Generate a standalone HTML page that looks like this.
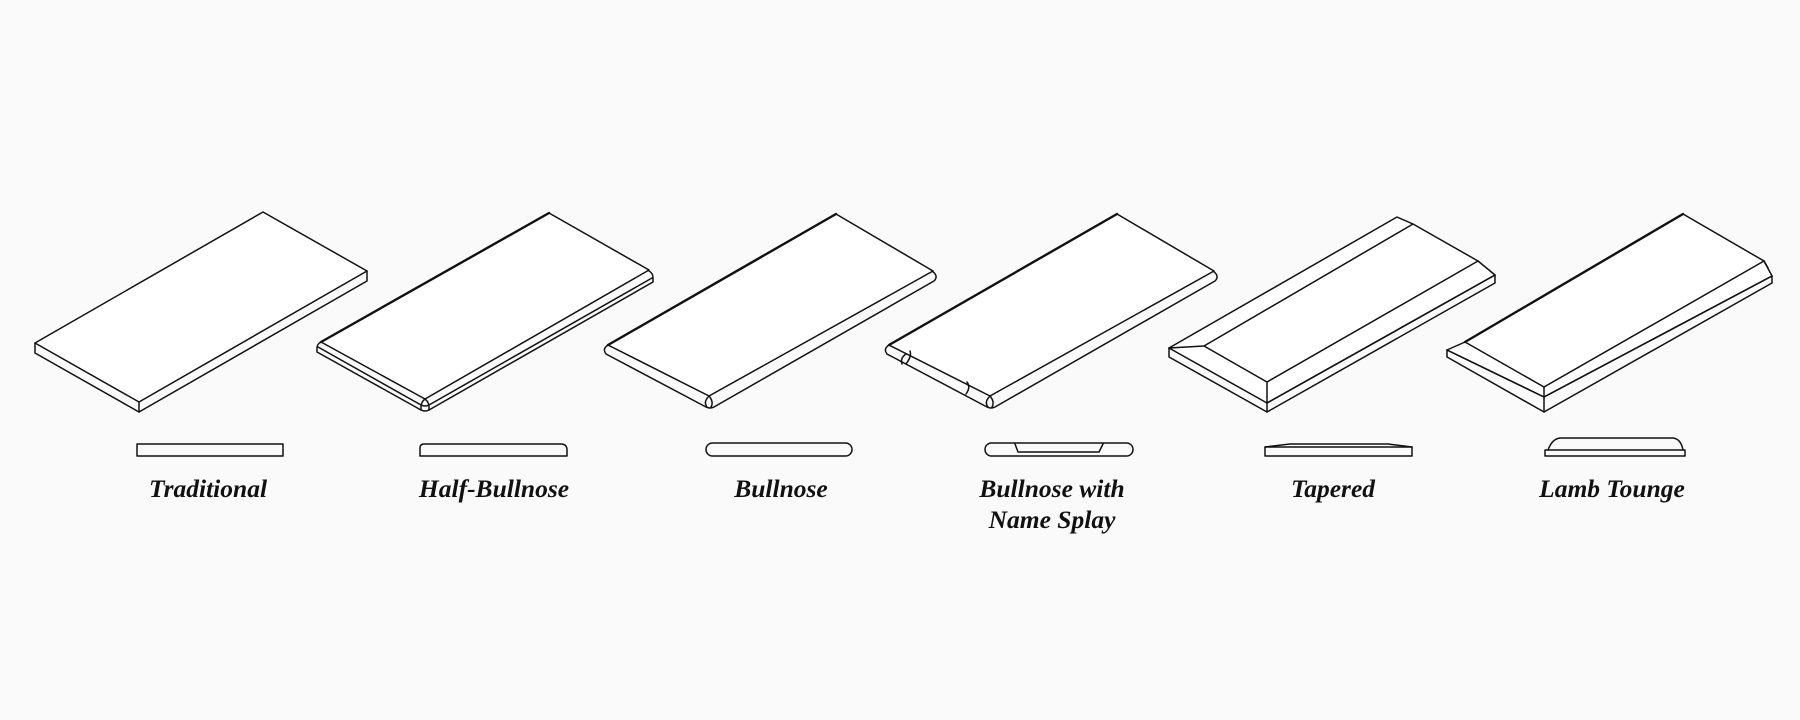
<!DOCTYPE html>
<html><head><meta charset="utf-8"><style>
html,body{margin:0;padding:0;background:#fafafa;}
svg{display:block;}
text{font-family:"Liberation Serif",serif;font-weight:bold;font-style:italic;font-size:25.5px;fill:#111;}
</style></head><body>
<svg width="1800" height="720" viewBox="0 0 1800 720" xmlns="http://www.w3.org/2000/svg">
<rect width="1800" height="720" fill="#fafafa"/>
<g fill="none" stroke="#111" stroke-width="1.5" stroke-linejoin="round" stroke-linecap="round">

<!-- Traditional -->
<g transform="translate(263,212)">
<polygon points="0,0 104,59 -124,190 -228,131" fill="#fff"/>
<polyline points="-228,131 -228,141 -124,200 104,69 104,59"/>
<line x1="-124" y1="190" x2="-124" y2="200"/>
</g>

<!-- Half-Bullnose -->
<g transform="translate(549,213)">
<polygon points="0,0 100,57 -124,186 -228,129" fill="#fff"/>
<line x1="0" y1="0" x2="-228" y2="129" stroke-width="2.4"/>
<path d="M-228,129 q-4,2 -4,6 l0,4 l104,58 q4,2 8,0 l224,-128 l0,-4 q0,-5 -4,-7"/>
<path d="M-231,134 l103,58 q4,2 8,0 l223,-127"/>
<path d="M-124,186 q-4,3 -4,8 l0,3"/>
<path d="M-124,186 q4,3 4,8 l0,3"/>
</g>

<!-- Bullnose -->
<g transform="translate(836,214)">
<polygon points="0,0 97,57 -127,182 -228,131" fill="#fff"/>
<line x1="0" y1="0" x2="-228" y2="131" stroke-width="2.4"/>
<path d="M-228,131 q-6,4 -2,9 l100,53 q4,2 8,0 l220,-126 q5,-5 -2,-10"/>
<path d="M-127,182 q-6,6 -2,11"/>
<path d="M-127,182 q5,6 2,11"/>
</g>

<!-- Bullnose with Name Splay -->
<g transform="translate(1117,214)">
<polygon points="0,0 97,57 -127,182 -228,131" fill="#fff"/>
<line x1="0" y1="0" x2="-228" y2="131" stroke-width="2.4"/>
<path d="M-228,131 q-6,4 -2,9 l100,53 q4,2 8,0 l220,-126 q5,-5 -2,-10"/>
<path d="M-127,182 q-6,6 -2,11"/>
<path d="M-127,182 q5,6 2,11"/>
<path d="M-211,140 q-6,4 -4,10"/>
<path d="M-207,137 q2,5 -4,13"/>
<path d="M-150,168 q4,5 -1,12"/>
</g>

<!-- Tapered -->
<g>
<polygon points="1397,217 1413,224 1478,261 1495,275 1267,403 1169,348" fill="#fff"/>
<polyline points="1169,348 1204,346 1413,224"/>
<polyline points="1204,346 1267,382 1478,261"/>
<line x1="1267" y1="382" x2="1267" y2="412"/>
<polyline points="1169,348 1169,357 1267,412 1495,283 1495,275"/>
<line x1="1267" y1="403" x2="1495" y2="275"/>
</g>

<!-- Lamb Tounge -->
<g>
<polygon points="1683,214 1764,261 1772,276 1544,397 1447,350 1465,342" fill="#fff"/>
<polyline points="1465,342 1544,387 1764,261"/>
<line x1="1683" y1="214" x2="1465" y2="342" stroke-width="2.4"/>
<polyline points="1447,350 1544,397 1772,276"/>
<polyline points="1447,350 1447,357 1544,412 1772,283 1772,276"/>
<line x1="1544" y1="387" x2="1544" y2="412"/>
<line x1="1764" y1="261" x2="1768" y2="268"/>
</g>

<!-- Profiles -->
<rect x="137" y="444" width="146" height="12"/>
<path d="M420,456 L420,448 Q420,444 424,444 L561,444 Q567,444 567,450 L567,456 Z"/>
<rect x="706" y="443" width="146" height="13" rx="6.5"/>
<rect x="985" y="443" width="148" height="13" rx="6.5"/>
<polyline points="1015,444 1018,452 1099,452 1103,444"/>
<rect x="1265" y="447" width="147" height="9"/>
<polyline points="1265,447 1290,444 1388,444 1412,447"/>
<rect x="1545" y="450" width="140" height="6"/>
<path d="M1548,450 Q1552,439 1560,438 L1673,438 Q1681,439 1683,450"/>
</g>

<text x="208" y="497" text-anchor="middle">Traditional</text>
<text x="494" y="497" text-anchor="middle">Half-Bullnose</text>
<text x="781" y="497" text-anchor="middle">Bullnose</text>
<text x="1052" y="497" text-anchor="middle">Bullnose with</text>
<text x="1052" y="528" text-anchor="middle">Name Splay</text>
<text x="1333" y="497" text-anchor="middle">Tapered</text>
<text x="1612" y="497" text-anchor="middle">Lamb Tounge</text>
</svg>
</body></html>
